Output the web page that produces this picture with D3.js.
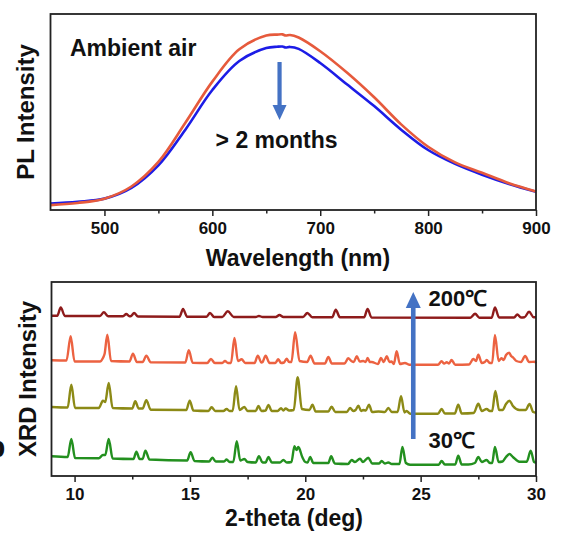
<!DOCTYPE html>
<html><head><meta charset="utf-8">
<script src="https://cdn.jsdelivr.net/npm/d3@7"></script>
<style>
html,body{margin:0;padding:0;background:#fff;}
svg text{font-family:"Liberation Sans",Arial,Helvetica,sans-serif;font-weight:bold;fill:#111;}
</style></head>
<body>
<svg id="chart" width="564" height="540"></svg>
<script>
// ---------- PL panel data ----------
const plWavelength = [450,475,500,525,550,575,600,625,650,660,665,668,672,680,700,725,750,775,800,825,850,875,900];
const plFresh      = [0.025,0.036,0.058,0.12,0.245,0.445,0.655,0.82,0.89,0.895,0.896,0.890,0.893,0.88,0.81,0.70,0.575,0.437,0.323,0.243,0.19,0.137,0.095];
const plAged       = [0.033,0.042,0.058,0.113,0.228,0.41,0.612,0.76,0.826,0.833,0.834,0.829,0.832,0.822,0.75,0.64,0.53,0.41,0.306,0.235,0.18,0.133,0.093];
const plTicks = [500,600,700,800,900];
const plMinorTicks = [550,650,750,850];

// ---------- XRD panel data ([2theta, intensity a.u.]) ----------
const xrd200 = [[9.0,160.3],[9.25,160.3],[9.40,168.5],[9.58,160],[11.1,160],[11.27,163.7],[11.45,159.8],[12.1,159.8],[12.24,162],[12.38,159.8],[12.45,160],[12.58,163],[12.75,159.5],[14.55,159.3],[14.70,167],[14.88,159.2],[15.72,159.2],[15.87,163],[16.05,159],[16.4,159],[16.64,164.7],[16.9,159],[17.85,159],[17.99,160],[18.15,159],[18.72,159],[18.88,161],[19.05,159],[19.9,159],[20.09,163],[20.3,158.8],[21.17,158.8],[21.32,166.3],[21.5,158.7],[22.55,158.7],[22.70,167],[22.87,158.5],[27.15,158.3],[27.36,162.3],[27.55,158.3],[28.08,158.3],[28.22,168.5],[28.4,158.5],[29.05,158.5],[29.19,161.5],[29.35,158.5],[29.5,158.7],[29.70,164.3],[29.9,158.7],[30,158.7]];
const xrdB = [[9.0,115.7],[9.65,115.5],[9.83,139.7],[10.0,114.5],[11.1,114.5],[11.23,118],[11.3,122],[11.42,141.3],[11.58,115],[12.38,114.5],[12.53,122.3],[12.7,114],[12.95,114],[13.11,120.3],[13.3,113.7],[14.8,113.5],[14.95,125.7],[15.12,113.3],[15.75,113],[15.91,117],[16.08,113],[16.4,113],[16.52,115],[16.65,113],[16.78,113],[16.93,138],[17.08,115],[17.24,116.7],[17.4,113],[17.8,113],[17.94,120.3],[18.1,113.5],[18.15,114],[18.28,120.3],[18.45,113],[18.7,113],[18.83,116.7],[18.95,113],[19.08,113.5],[19.19,117.3],[19.3,114],[19.4,114],[19.56,143.7],[19.75,115],[20.08,114],[20.23,120.3],[20.4,112.5],[20.85,112.5],[21.0,119],[21.15,112.5],[21.7,112.5],[21.86,117.7],[22.0,115],[22.1,114],[22.23,119.7],[22.36,114.5],[22.51,115],[22.62,114],[22.70,118],[22.8,114],[22.88,114],[23.15,112],[23.28,118],[23.4,114],[23.53,119.7],[23.65,114],[23.74,114.5],[23.84,112],[23.96,124.7],[24.1,112],[24.32,113],[24.5,111.3],[25.75,111.3],[25.91,114.7],[26.02,112.5],[26.13,113.8],[26.23,112.5],[26.34,116],[26.5,111.3],[27.1,111.5],[27.28,117],[27.4,115],[27.50,121.3],[27.65,113],[27.78,114],[27.86,116],[28.0,113],[28.1,113],[28.22,141],[28.38,115],[28.5,117.7],[28.6,116],[28.7,121],[28.84,123.3],[28.92,120],[29.0,118.7],[29.15,115],[29.35,114],[29.53,120],[29.7,114],[29.95,114.3],[30,112.7]];
const xrdC = [[9.0,69],[9.7,68.5],[9.86,91.3],[10.02,68],[11.05,68],[11.23,75.3],[11.33,74],[11.48,93],[11.65,68],[12.5,67.5],[12.63,74.7],[12.78,67.5],[12.95,67.5],[13.11,75.7],[13.3,66.3],[14.84,66],[14.99,75.3],[15.15,65.5],[15.8,65],[15.94,68.7],[16.1,65],[16.45,65],[16.59,67],[16.72,65],[16.85,65],[17.0,89.7],[17.15,66],[17.36,69],[17.5,65],[17.85,65],[17.97,70],[18.1,65],[18.28,65.5],[18.40,71],[18.55,65],[18.8,65],[18.95,67.7],[19.05,65.5],[19.15,67.5],[19.3,65.5],[19.5,66],[19.67,98.7],[19.85,67],[20.18,66],[20.31,71.3],[20.45,64.5],[21.0,64.5],[21.14,69.3],[21.3,64],[21.8,64],[21.94,68],[22.08,65],[22.18,66],[22.30,70.3],[22.42,65],[22.51,66],[22.62,65.5],[22.76,71.3],[22.9,64],[23.17,64.5],[23.45,64],[23.60,68],[23.75,64],[24.0,64],[24.15,79.7],[24.3,63.5],[24.39,65],[24.55,62.3],[25.75,62.3],[25.91,67],[26.05,62.5],[26.48,62.5],[26.63,71.3],[26.78,62.5],[27.3,63],[27.50,72.3],[27.65,65],[27.86,67],[28.0,65],[28.1,65],[28.24,85],[28.4,66],[28.55,66],[28.7,72],[28.85,75.3],[29.0,70],[29.28,66],[29.55,66],[29.72,72],[29.88,64],[30,63.3]];
const xrd30 = [[9.0,19.7],[9.7,19],[9.86,37],[10.02,18],[11.05,17.8],[11.23,21],[11.33,21],[11.48,37],[11.65,17.5],[12.55,17],[12.68,24.3],[12.82,17],[12.95,17],[13.07,25.3],[13.25,16.5],[14.88,15.5],[15.03,23.7],[15.2,15],[15.83,14.5],[15.97,18.3],[16.12,14.5],[16.48,14.5],[16.59,16.5],[16.72,14],[16.88,14],[17.03,34.7],[17.18,15.5],[17.36,17],[17.5,14],[17.85,13.5],[17.99,19.7],[18.15,13.5],[18.28,13.5],[18.40,19],[18.55,13.5],[18.9,13.5],[19.05,16],[19.2,13.5],[19.4,14],[19.53,29.7],[19.62,26],[19.70,29],[19.87,19],[20.0,14],[20.1,13.5],[20.21,19],[20.35,13],[21.0,13],[21.12,19.7],[21.28,12.5],[21.85,12],[22.01,16],[22.15,14],[22.37,17.3],[22.5,14],[22.73,18.3],[22.9,12.5],[23.2,12.5],[23.31,15],[23.45,12.5],[23.6,13.5],[23.75,12],[24.08,12],[24.21,29],[24.36,13],[24.54,11.3],[25.78,11.3],[25.91,15],[26.05,11.5],[26.5,11.5],[26.63,20.3],[26.78,11.5],[27.07,11.5],[27.35,13],[27.50,19],[27.65,14],[27.86,16],[28.0,13],[28.1,13],[28.22,29],[28.38,14],[28.55,14.5],[28.7,19],[28.85,22],[29.0,19],[29.28,14.3],[29.6,14.3],[29.77,25.3],[29.92,14],[30,13.3]];
const xrdTicks = [10,15,20,25,30];
const xrdMinorTicks = [12.5,17.5,22.5,27.5];

const xrdSeries = [
  {name:"200℃", data:xrd200, color:"#8e1b1b"},
  {name:"B",    data:xrdB,   color:"#ec6241"},
  {name:"C",    data:xrdC,   color:"#8c8a16"},
  {name:"30℃",  data:xrd30,  color:"#23901f"}
];

const svg = d3.select("#chart");
const arrowColor = "#4472c4";

// ---------- PL panel ----------
const p1 = {left:50.5, right:536, top:14, bottom:210};
const x1 = d3.scaleLinear().domain([450,900]).range([p1.left,p1.right]);
const y1 = d3.scaleLinear().domain([0,1]).range([p1.bottom,p1.top]);

const plLine = (vals) => d3.line().x((d,i)=>x1(plWavelength[i])).y(d=>y1(d)).curve(d3.curveCatmullRom.alpha(0.5))(vals);
svg.append("path").attr("d",plLine(plAged)).attr("fill","none").attr("stroke","#1c1ce6").attr("stroke-width",2.6);
svg.append("path").attr("d",plLine(plFresh)).attr("fill","none").attr("stroke","#e65a3c").attr("stroke-width",2.6);

const ax1 = svg.append("g").attr("transform",`translate(0,${p1.bottom})`)
  .call(d3.axisBottom(x1).tickValues(plTicks).tickSize(6).tickPadding(6).tickFormat(d3.format("d")));
ax1.select(".domain").remove();
ax1.selectAll("line").attr("stroke","#222").attr("stroke-width",1.5);
ax1.selectAll("text").attr("font-size",17).attr("fill","#111").style("font-weight","bold");
const mi1 = svg.append("g").attr("transform",`translate(0,${p1.bottom})`)
  .call(d3.axisBottom(x1).tickValues(plMinorTicks).tickSize(3.5).tickFormat(""));
mi1.select(".domain").remove();
mi1.selectAll("line").attr("stroke","#222").attr("stroke-width",1.5);

svg.append("rect").attr("x",p1.left).attr("y",p1.top).attr("width",p1.right-p1.left).attr("height",p1.bottom-p1.top)
  .attr("fill","none").attr("stroke","#222").attr("stroke-width",1.8);

svg.append("text").attr("x",298).attr("y",266).attr("text-anchor","middle").attr("font-size",23).text("Wavelength (nm)");
svg.append("text").attr("transform",`translate(34,${(p1.top+p1.bottom)/2}) rotate(-90)`).attr("text-anchor","middle").attr("font-size",24).text("PL Intensity");
svg.append("text").attr("x",x1(468)).attr("y",y1(0.786)).attr("font-size",23).text("Ambient air");
svg.append("text").attr("x",x1(603)).attr("y",y1(0.316)).attr("font-size",23).text("> 2 months");

function arrow(xp, yTail, yTip, shaftW, headW, headL){
  const dir = yTip > yTail ? 1 : -1;
  const yBase = yTip - dir*headL;
  svg.append("line").attr("x1",xp).attr("x2",xp).attr("y1",yTail).attr("y2",yBase)
    .attr("stroke",arrowColor).attr("stroke-width",shaftW);
  svg.append("path").attr("d",`M${xp-headW/2},${yBase}L${xp+headW/2},${yBase}L${xp},${yTip}Z`).attr("fill",arrowColor);
}
arrow(x1(662.3), y1(0.755), y1(0.459), 4.2, 14, 15);

// ---------- XRD panel ----------
const p2 = {left:51.5, right:536, top:282, bottom:476};
const x2 = d3.scaleLinear().domain([9,30]).range([p2.left,p2.right]);
const y2 = d3.scaleLinear().domain([0,194]).range([p2.bottom,p2.top]);
const xrdLine = d3.line().x(d=>x2(d[0])).y(d=>y2(d[1])).curve(d3.curveMonotoneX);
xrdSeries.forEach(s=>{
  svg.append("path").attr("d",xrdLine(s.data)).attr("fill","none").attr("stroke",s.color)
    .attr("stroke-width",2.4).attr("stroke-linejoin","round");
});

const ax2 = svg.append("g").attr("transform",`translate(0,${p2.bottom})`)
  .call(d3.axisBottom(x2).tickValues(xrdTicks).tickSize(6).tickPadding(6).tickFormat(d3.format("d")));
ax2.select(".domain").remove();
ax2.selectAll("line").attr("stroke","#222").attr("stroke-width",1.5);
ax2.selectAll("text").attr("font-size",17).attr("fill","#111").style("font-weight","bold");
const mi2 = svg.append("g").attr("transform",`translate(0,${p2.bottom})`)
  .call(d3.axisBottom(x2).tickValues(xrdMinorTicks).tickSize(3.5).tickFormat(""));
mi2.select(".domain").remove();
mi2.selectAll("line").attr("stroke","#222").attr("stroke-width",1.5);

svg.append("rect").attr("x",p2.left).attr("y",p2.top).attr("width",p2.right-p2.left).attr("height",p2.bottom-p2.top)
  .attr("fill","none").attr("stroke","#222").attr("stroke-width",1.8);

svg.append("text").attr("x",294).attr("y",526).attr("text-anchor","middle").attr("font-size",23).text("2-theta (deg)");
svg.append("text").attr("transform",`translate(36,${(p2.top+p2.bottom)/2}) rotate(-90)`).attr("text-anchor","middle").attr("font-size",24).text("XRD Intensity");

arrow(x2(24.68), y2(37), y2(184), 4.6, 15, 16);
svg.append("text").attr("x",x2(25.34)).attr("y",y2(170)).attr("font-size",22).text("200℃");
svg.append("text").attr("x",x2(25.34)).attr("y",y2(28)).attr("font-size",22).text("30℃");

// cropped panel letter at the left edge
svg.append("text").attr("x",-13).attr("y",457).attr("font-size",30).text("b");
</script>
</body></html>
